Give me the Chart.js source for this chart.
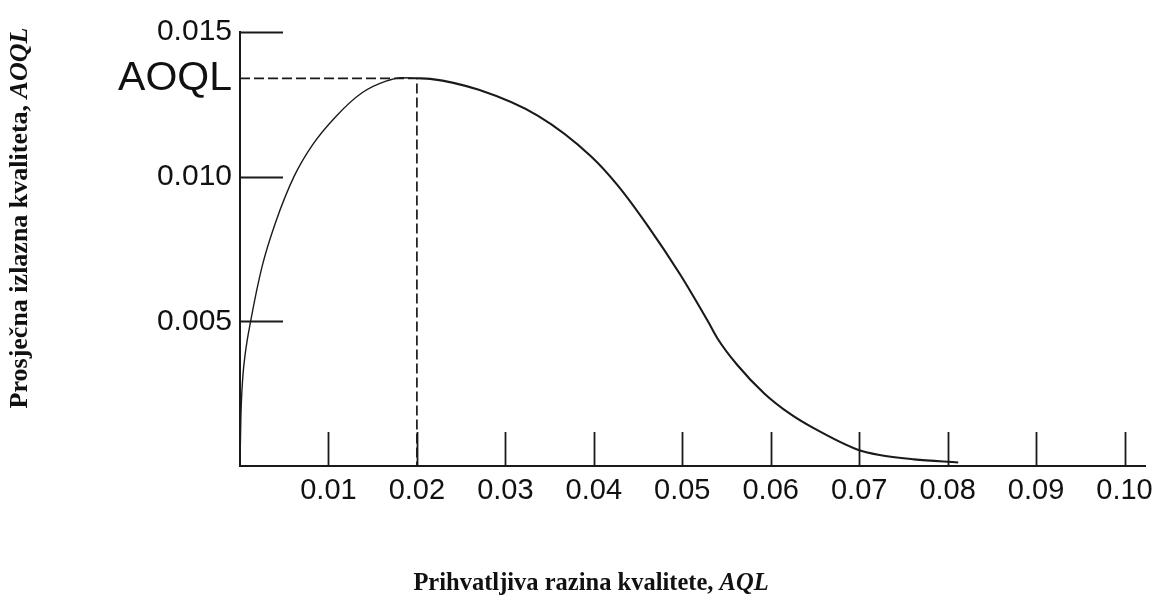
<!DOCTYPE html>
<html><head><meta charset="utf-8">
<script src="https://cdn.jsdelivr.net/npm/chart.js@4"></script>
<style>html,body{margin:0;padding:0;background:#fff}#wrap{width:1161px;height:606px;position:relative}</style>
</head><body><div id="wrap"><canvas id="c"></canvas></div>
<script>
// AQL (x) and AOQ (y) readings of the curve
const aqlValues = [0, 0.0001, 0.0003, 0.0006, 0.0012, 0.0025, 0.0040, 0.0061, 0.0082, 0.0109, 0.0138, 0.0165, 0.0183, 0.0200,
  0.0215, 0.0270, 0.0337, 0.0397, 0.0427, 0.0461, 0.0498, 0.0529, 0.0540, 0.0562, 0.0593, 0.0622, 0.0649, 0.0697, 0.0723, 0.0762, 0.0812];
const aoqValues = [0, 0.0017, 0.0030, 0.0039, 0.0050, 0.0069, 0.0084, 0.0100, 0.0111, 0.0121, 0.0129, 0.0133, 0.01342, 0.0134,
  0.01338, 0.0130, 0.0121, 0.0107, 0.0097, 0.0083, 0.0066, 0.0050, 0.0044, 0.0035, 0.0025, 0.0018, 0.0013, 0.00058, 0.00038, 0.00023, 0.00012];
const aoqlValue = 0.0134;
const aoqlAt = 0.02;
const markerX = [0, aoqlAt, aoqlAt];
const markerY = [aoqlValue, aoqlValue, 0];
const aqlTickValues = [0.01, 0.02, 0.03, 0.04, 0.05, 0.06, 0.07, 0.08, 0.09, 0.10];
const aqlTickLabels = ['0.01', '0.02', '0.03', '0.04', '0.05', '0.06', '0.07', '0.08', '0.09', '0.10'];
const aoqTickValues = [0.005, 0.010, aoqlValue, 0.015];
const aoqTickLabels = ['0.005', '0.010', 'AOQL', '0.015'];
const xTitleParts = ['Prihvatljiva razina kvalitete, ', 'AQL'];
const yTitleParts = ['Prosječna izlazna kvaliteta, ', 'AOQL'];

const INK = '#1a1a1a';

const curvePoints = aqlValues.map((v, i) => ({x: v, y: aoqValues[i]}));
const markerPoints = markerX.map((v, i) => ({x: v, y: markerY[i]}));

const tickMarks = {
  id: 'tickMarks',
  afterDatasetsDraw(chart) {
    const {ctx, scales: {x, y}} = chart;
    ctx.save();
    ctx.strokeStyle = INK;
    ctx.lineWidth = 1.8;
    x.ticks.forEach(t => {
      const px = Math.round(x.getPixelForValue(t.value)) + 0.5;
      ctx.beginPath(); ctx.moveTo(px, y.bottom); ctx.lineTo(px, y.bottom - 34); ctx.stroke();
    });
    y.ticks.forEach(t => {
      if (t.value === aoqlValue) return;
      const py = Math.round(y.getPixelForValue(t.value)) + 0.5;
      ctx.beginPath(); ctx.moveTo(x.left, py); ctx.lineTo(x.left + 43, py); ctx.stroke();
    });
    ctx.restore();
  }
};

function drawParts(ctx, parts, size) {
  const fonts = [`bold ${size}px "Liberation Serif"`, `bold italic ${size}px "Liberation Serif"`];
  let w = 0;
  const widths = parts.map((p, i) => { ctx.font = fonts[i]; const m = ctx.measureText(p).width; w += m; return m; });
  let cx = -w / 2;
  parts.forEach((p, i) => { ctx.font = fonts[i]; ctx.fillText(p, cx, 0); cx += widths[i]; });
}

const axisTitles = {
  id: 'axisTitles',
  afterDraw(chart) {
    const {ctx} = chart;
    ctx.save();
    ctx.fillStyle = '#111';
    ctx.textBaseline = 'middle';
    ctx.textAlign = 'left';
    ctx.save();
    ctx.translate(591, 584);
    drawParts(ctx, xTitleParts, 24.5);
    ctx.restore();
    ctx.save();
    ctx.translate(20, 218);
    ctx.rotate(-Math.PI / 2);
    drawParts(ctx, yTitleParts, 26);
    ctx.restore();
    ctx.restore();
  }
};

new Chart(document.getElementById('c'), {
  type: 'line',
  data: {
    datasets: [
      {
        data: curvePoints,
        borderColor: INK,
        borderWidth: 1.6,
        pointRadius: 0,
        fill: false,
        cubicInterpolationMode: 'monotone',
        segment: { borderWidth: c => (c.p0.parsed.x >= aoqlAt ? 2.1 : 1.4) }
      },
      {
        data: markerPoints,
        borderColor: INK,
        borderWidth: 1.7,
        borderDash: [10, 4],
        pointRadius: 0,
        fill: false,
        tension: 0
      }
    ]
  },
  options: {
    responsive: true,
    maintainAspectRatio: false,
    animation: false,
    events: [],
    layout: { padding: { left: 0, top: 32, right: 11, bottom: 0 } },
    plugins: { legend: { display: false }, tooltip: { enabled: false }, title: { display: false } },
    scales: {
      x: {
        type: 'linear',
        min: 0,
        max: 0.1024,
        afterBuildTicks: s => { s.ticks = aqlTickValues.map(v => ({value: v})); },
        afterFit: s => { s.height = 140; },
        grid: { display: false, drawTicks: false },
        border: { display: true, color: INK, width: 2 },
        ticks: {
          autoSkip: false, maxRotation: 0, padding: 8, color: '#111',
          font: { family: 'Liberation Sans', size: 29 },
          callback: (v, i) => aqlTickLabels[i]
        }
      },
      y: {
        type: 'linear',
        min: 0,
        max: 0.015,
        afterBuildTicks: s => { s.ticks = aoqTickValues.map(v => ({value: v})); },
        afterFit: s => { s.width = 240; },
        grid: { display: false, drawTicks: false },
        border: { display: true, color: INK, width: 2 },
        ticks: {
          autoSkip: false, padding: 8, color: '#111',
          font: c => ({ family: 'Liberation Sans', size: (c.tick && c.tick.value === aoqlValue) ? 41 : 30 }),
          callback: (v, i) => aoqTickLabels[i]
        }
      }
    }
  },
  plugins: [tickMarks, axisTitles]
});
</script>
</body></html>
